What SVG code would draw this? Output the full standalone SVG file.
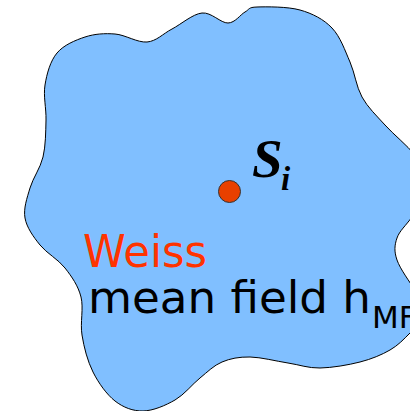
<svg xmlns="http://www.w3.org/2000/svg" width="410" height="411" viewBox="0 0 410 411">
<style>
.blob{fill:#80BFFF;stroke:#000;stroke-width:1}
.spin{fill:#E84000;stroke:#333;stroke-width:1}
.sym{font-family:"Liberation Serif","Times New Roman",serif;font-weight:bold;font-style:italic;fill:#000}
.lbl{font-family:"DejaVu Sans",Verdana,sans-serif}
</style>
<rect width="410" height="411" fill="#fff"/>
<g id="region">
<path class="blob" d="M257,7 C266.2,6.7 287.5,6.5 300,10 C312.5,13.5 323.7,19.3 332,28 C340.3,36.7 345,50.5 350,62 C355,73.5 356.2,86.5 362,97 C367.8,107.5 376.2,115.3 385,125 C393.8,134.7 406.7,145 415,155 C423.3,165 435.5,174.7 435,185 C434.5,195.3 418.3,208.2 412,217 C405.7,225.8 399.5,230.8 397,238 C394.5,245.2 394,251.3 397,260 C400,268.7 409.5,281.7 415,290 C420.5,298.3 430.8,302.8 430,310 C429.2,317.2 416.7,326.3 410,333 C403.3,339.7 398.3,345.2 390,350 C381.7,354.8 371.7,359 360,362 C348.3,365 332,367.8 320,368 C308,368.2 299.7,364.8 288,363 C276.3,361.2 261,357.2 250,357 C239,356.8 230.3,358.5 222,362 C213.7,365.5 207.8,371.7 200,378 C192.2,384.3 184.5,394.5 175,400 C165.5,405.5 153,410.8 143,411 C133,411.2 123.3,407.5 115,401 C106.7,394.5 98.5,383 93,372 C87.5,361 84,347.5 82,335 C80,322.5 83.8,308.2 81,297 C78.2,285.8 71.8,276.7 65,268 C58.2,259.3 46.7,253.3 40,245 C33.3,236.7 26.7,227.5 25,218 C23.3,208.5 27,198.2 30,188 C33,177.8 40.3,168.3 43,157 C45.7,145.7 45.7,132 46,120 C46.3,108 43.2,96.2 45,85 C46.8,73.8 50.3,61 57,53 C63.7,45 75.3,40.2 85,37 C94.7,33.8 104.7,33.2 115,34 C125.3,34.8 137.5,42.8 147,42 C156.5,41.2 162.8,33.8 172,29 C181.2,24.2 192.7,14 202,13 C211.3,12 220.8,23.2 228,23 C235.2,22.8 240.2,14.7 245,12 C249.8,9.3 247.8,7.3 257,7 Z"/>
</g>
<g id="spin">
<circle class="spin" cx="229.5" cy="191.5" r="11"/>
<text class="sym" x="252" y="177" font-size="55">S</text>
<text class="sym" x="281" y="190" font-size="33">i</text>
</g>
<g id="labels">
<text class="lbl" x="83" y="267" font-size="45" fill="#FF3300" textLength="124" lengthAdjust="spacingAndGlyphs">Weiss</text>
<text class="lbl" x="88" y="313" font-size="45" fill="#000" textLength="283" lengthAdjust="spacingAndGlyphs">mean field h</text>
<text class="lbl" x="372" y="328" font-size="31" fill="#000">MF</text>
</g>
</svg>
